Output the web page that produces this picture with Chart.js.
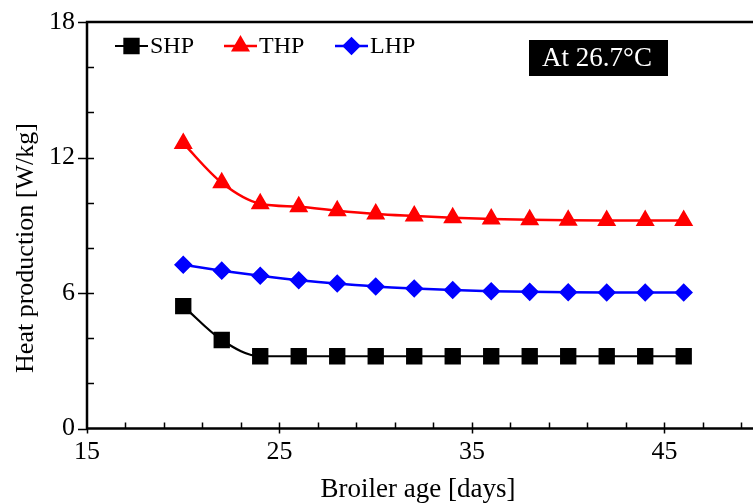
<!DOCTYPE html>
<html><head><meta charset="utf-8">
<script src="https://cdn.jsdelivr.net/npm/chart.js@4.4.0/dist/chart.umd.min.js"></script>
<style>html,body{margin:0;padding:0;background:#fff;overflow:hidden}#wrap{width:753px;height:503px}</style>
</head><body><div id="wrap"><canvas id="c" width="753" height="503"></canvas></div>
<script>
// ---- data ----
const ages = [20, 22, 24, 26, 28, 30, 32, 34, 36, 38, 40, 42, 44, 46];
const shp  = [5.42, 3.92, 3.2, 3.2, 3.2, 3.2, 3.2, 3.2, 3.2, 3.2, 3.2, 3.2, 3.2, 3.2];
const thp  = [12.62, 10.88, 9.95, 9.82, 9.64, 9.5, 9.41, 9.33, 9.28, 9.24, 9.22, 9.21, 9.21, 9.21];
const lhp  = [7.25, 6.99, 6.76, 6.56, 6.42, 6.29, 6.2, 6.13, 6.08, 6.05, 6.03, 6.02, 6.02, 6.02];
const seriesNames = ['SHP', 'THP', 'LHP'];
const xTicks = [15, 25, 35, 45];
const xMinorTicks = [17, 19, 21, 23, 27, 29, 31, 33, 37, 39, 41, 43, 47, 49];
const yTicks = [0, 6, 12, 18];
const yMinorTicks = [2, 4, 8, 10, 14, 16];
const xTitle = 'Broiler age [days]';
const yTitle = 'Heat production [W/kg]';
const noteText = 'At 26.7°C';

const FONT = '"Liberation Serif", "Times New Roman", serif';

function toPts(ys) { return ages.map((a, i) => ({ x: a, y: ys[i] })); }

const datasets = [
  { label: seriesNames[0], data: toPts(shp), borderColor: '#000', backgroundColor: '#000',
    borderWidth: 2.2, pointStyle: 'rect', pointRadius: 10, pointHoverRadius: 10, cubicInterpolationMode: 'monotone' },
  { label: seriesNames[1], data: toPts(thp), borderColor: '#ff0000', backgroundColor: '#ff0000',
    borderWidth: 2.5, pointStyle: 'triangle', pointRadius: 8.5, pointHoverRadius: 8.5, cubicInterpolationMode: 'monotone' },
  { label: seriesNames[2], data: toPts(lhp), borderColor: '#0000ff', backgroundColor: '#0000ff',
    borderWidth: 2.5, pointStyle: 'rectRot', pointRadius: 7.5, pointHoverRadius: 7.5, cubicInterpolationMode: 'monotone' }
];

const framePlugin = {
  id: 'frame',
  beforeDatasetsDraw(chart) {
    const { ctx, chartArea: a, scales: { x, y } } = chart;
    ctx.save();
    ctx.strokeStyle = '#000';
    ctx.lineWidth = 2.5;
    ctx.beginPath();
    ctx.moveTo(a.left, a.top); ctx.lineTo(a.left, a.bottom);
    ctx.moveTo(a.left - 1.2, a.bottom); ctx.lineTo(a.right, a.bottom);
    ctx.moveTo(a.left - 1.2, a.top); ctx.lineTo(a.right, a.top);
    ctx.stroke();
    ctx.lineWidth = 1.5;
    ctx.beginPath();
    yTicks.forEach(v => { const py = Math.round(y.getPixelForValue(v)) + 0.5;
      ctx.moveTo(a.left - 9, py); ctx.lineTo(a.left + ((v === 0 || v === 18) ? 0 : 7), py); });
    yMinorTicks.forEach(v => { const py = Math.round(y.getPixelForValue(v)) + 0.5;
      ctx.moveTo(a.left, py); ctx.lineTo(a.left + 7, py); });
    xTicks.forEach(v => { const px = Math.round(x.getPixelForValue(v)) + 0.5;
      ctx.moveTo(px, a.bottom + 5); ctx.lineTo(px, a.bottom - (v === 15 ? 0 : 6)); });
    xMinorTicks.forEach(v => { const px = Math.round(x.getPixelForValue(v)) + 0.5;
      if (px < a.right) { ctx.moveTo(px, a.bottom); ctx.lineTo(px, a.bottom - 6); } });
    ctx.stroke();
    ctx.restore();
  },
  afterDraw(chart) {
    const { ctx } = chart;
    ctx.save();
    // axis titles
    ctx.fillStyle = '#000';
    ctx.font = '27px ' + FONT;
    ctx.textAlign = 'center';
    ctx.textBaseline = 'alphabetic';
    ctx.fillText(xTitle, 418, 497);
    ctx.save();
    ctx.translate(33, 248);
    ctx.rotate(-Math.PI / 2);
    ctx.font = '26px ' + FONT;
    ctx.fillText(yTitle, 0, 0);
    ctx.restore();
    // legend
    const legendX = [115, 224, 335];
    const ly = 46;
    chart.data.datasets.forEach((ds, i) => {
      const x0 = legendX[i];
      ctx.strokeStyle = ds.borderColor;
      ctx.lineWidth = ds.borderWidth;
      ctx.beginPath(); ctx.moveTo(x0, ly); ctx.lineTo(x0 + 33, ly); ctx.stroke();
      Chart.helpers.drawPoint(ctx, { pointStyle: ds.pointStyle, radius: ds.pointRadius, borderWidth: 1, rotation: 0 }, x0 + 16.5, ly);
      ctx.fillStyle = ds.backgroundColor;
      ctx.fill();
      ctx.fillStyle = '#000';
      ctx.font = '24px ' + FONT;
      ctx.textAlign = 'left';
      ctx.textBaseline = 'middle';
      ctx.fillText(ds.label, x0 + 35, ly + 1);
    });
    // note box
    ctx.fillStyle = '#000';
    ctx.fillRect(529, 40, 139, 36);
    ctx.fillStyle = '#fff';
    ctx.font = '27px ' + FONT;
    ctx.textAlign = 'center';
    ctx.textBaseline = 'middle';
    ctx.fillText(noteText, 597, 59);
    ctx.restore();
  }
};

new Chart(document.getElementById('c'), {
  type: 'line',
  data: { datasets },
  options: {
    responsive: false,
    animation: false,
    devicePixelRatio: 1,
    layout: { autoPadding: false, padding: { top: 22, right: 0, left: 0, bottom: 0 } },
    plugins: { legend: { display: false }, tooltip: { enabled: false } },
    scales: {
      x: {
        type: 'linear', min: 15, max: 49.6,
        afterBuildTicks: s => { s.ticks = xTicks.map(v => ({ value: v })); },
        afterFit: s => { s.height = 74.5; s.paddingLeft = 0; s.paddingRight = 0; },
        grid: { display: false, drawTicks: false }, border: { display: false },
        ticks: { color: '#000', font: { family: FONT, size: 26 }, padding: 8, maxRotation: 0, autoSkip: false }
      },
      y: {
        type: 'linear', min: 0, max: 18,
        afterBuildTicks: s => { s.ticks = yTicks.map(v => ({ value: v })); },
        afterFit: s => { s.width = 87; s.paddingTop = 0; s.paddingBottom = 0; },
        grid: { display: false, drawTicks: false }, border: { display: false },
        ticks: { color: '#000', font: { family: FONT, size: 26 }, padding: 12, autoSkip: false }
      }
    }
  },
  plugins: [framePlugin]
});
</script>
</body></html>
